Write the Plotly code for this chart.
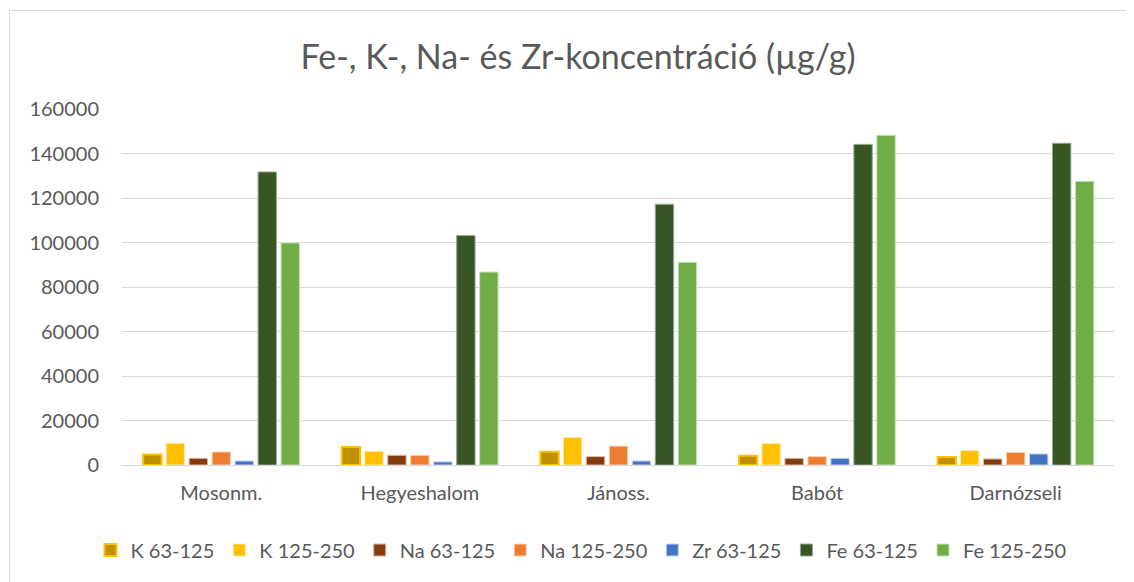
import plotly.graph_objects as go

categories = ["Mosonm.", "Hegyeshalom", "Jánoss.", "Babót", "Darnózseli"]
series_names = ["K 63-125", "K 125-250", "Na 63-125", "Na 125-250", "Zr 63-125", "Fe 63-125", "Fe 125-250"]
k_63_125 = [4700, 8100, 6000, 4200, 3600]
k_125_250 = [9750, 6150, 12400, 9600, 6450]
na_63_125 = [3000, 4350, 3750, 3000, 2700]
na_125_250 = [5850, 4350, 8500, 3750, 5700]
zr_63_125 = [1800, 1400, 1800, 3000, 4950]
fe_63_125 = [131700, 103100, 117200, 144100, 144600]
fe_125_250 = [99800, 86700, 91100, 148200, 127500]
y_ticks = [0, 20000, 40000, 60000, 80000, 100000, 120000, 140000, 160000]

values = [k_63_125, k_125_250, na_63_125, na_125_250, zr_63_125, fe_63_125, fe_125_250]
fills = ["#BF9000", "#FFC000", "#843C0C", "#ED7D31", "#4472C4", "#375623", "#70AD47"]
lines = ["#FFC000", "#FFE7A6", "#D9B8A6", "#F9D2B6", "#C4D2EE", "#98A891", "#C6E0B5"]
line_w = [2, 1, 1, 1, 1, 1, 1]

fig = go.Figure()
for name, vals, fc, lc, lw in zip(series_names, values, fills, lines, line_w):
    fig.add_trace(go.Bar(
        x=categories, y=vals, name=name,
        marker=dict(color=fc, line=dict(color=lc, width=lw)),
    ))

# page body has an 8px margin, so the figure is drawn 8px right/down
OFF = 8
W, H = 1134 - OFF, 582 - OFF
L, R, T, B = 122 - OFF, 19, 109 - OFF, H - (465 - OFF)
pw, ph = W - L - R, H - T - B

def sx(px):  # screen x -> paper
    return (px - OFF - L) / pw

def sy(py):  # screen y -> paper
    return (H - B - (py - OFF)) / ph

fig.update_layout(
    width=W, height=H,
    margin=dict(l=L, r=R, t=T, b=B),
    paper_bgcolor="white", plot_bgcolor="white",
    barmode="group", bargap=0.19, bargroupgap=0.2,
    font=dict(family="Lato, 'Open Sans', sans-serif", color="#595959", size=20),
    title=dict(text="Fe-, K-, Na- és Zr-koncentráció (µg/g)", x=(578 - OFF) / W, xanchor="center",
               y=1 - (57 - OFF) / H, yanchor="middle",
               font=dict(size=34, color="#595959")),
    xaxis=dict(showgrid=False, showline=True, linecolor="#D9D9D9", linewidth=1,
               ticks="", ticklabelstandoff=10, tickfont=dict(size=20, color="#595959")),
    yaxis=dict(range=[0, 160000], tickvals=y_ticks, ticktext=[str(v) for v in y_ticks],
               showgrid=True, gridcolor="#D9D9D9", gridwidth=1, zeroline=False,
               showline=False, ticks="", ticklabelstandoff=22,
               tickfont=dict(size=20, color="#595959")),
    legend=dict(orientation="h", x=sx(581), xanchor="center",
                y=sy(550), yanchor="middle",
                font=dict(size=20, color="#595959"), itemwidth=30,
                traceorder="normal"),
    showlegend=True,
    shapes=[dict(type="rect", xref="paper", yref="paper",
                 x0=sx(9.5), x1=sx(1150),
                 y0=sy(600), y1=sy(10.5),
                 line=dict(color="#D9D9D9", width=1), layer="below")],
)

fig.write_html("out.html")
